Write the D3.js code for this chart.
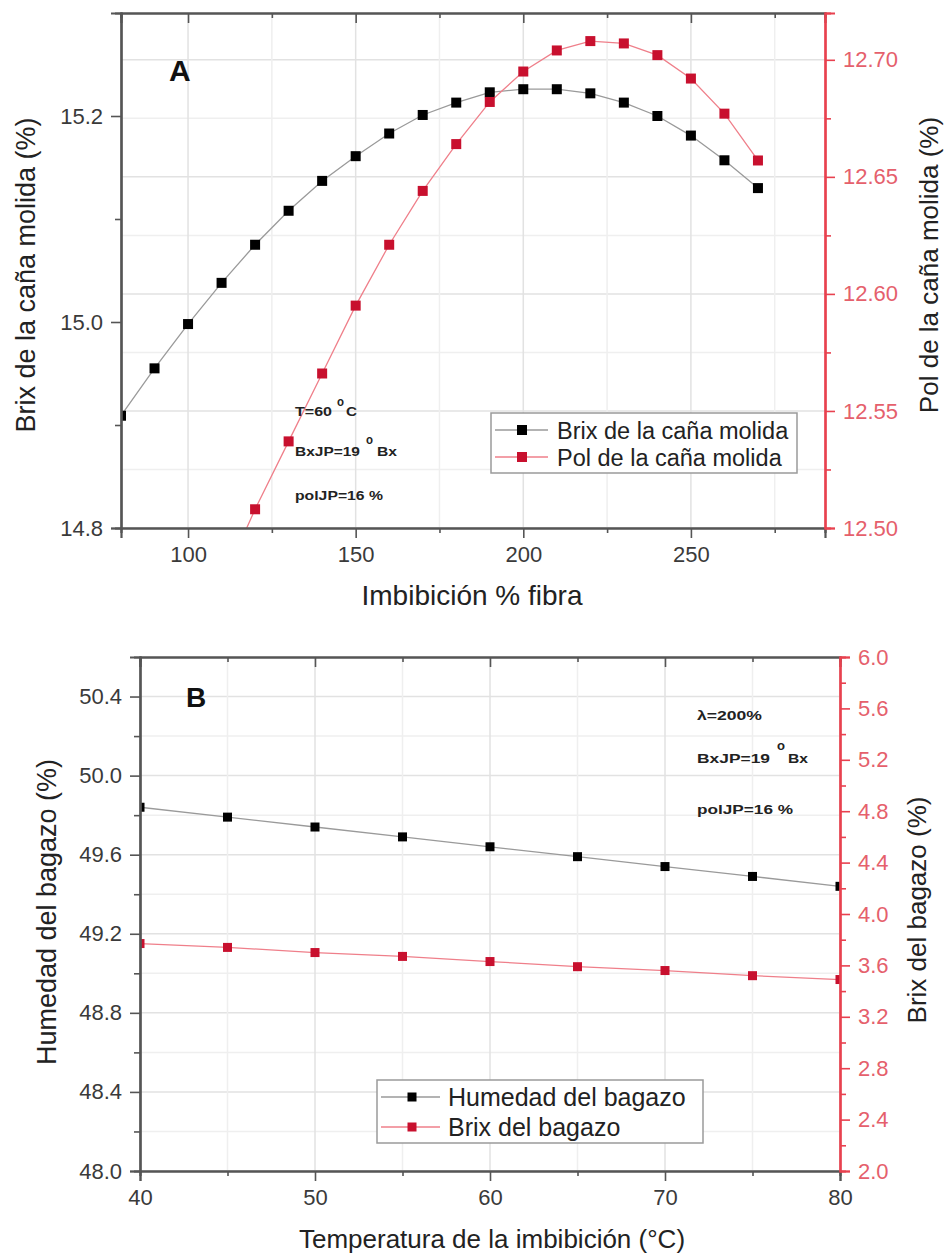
<!DOCTYPE html>
<html>
<head>
<meta charset="utf-8">
<script src="https://cdn.jsdelivr.net/npm/d3@7/dist/d3.min.js"></script>
<style>
  html, body { margin: 0; padding: 0; background: #fff; }
  svg { display: block; font-family: "Liberation Sans", Arial, sans-serif; }
</style>
</head>
<body>
<svg id="chart" width="947" height="1260"></svg>
<script>
// ---- Panel A: imbibition % fibre vs. milled cane Brix / Pol ----
const imbibA   = [70, 80, 90, 100, 110, 120, 130, 140, 150, 160, 170, 180, 190, 200, 210, 220, 230, 240, 250, 260, 270];
const brixCana = [14.855, 14.909, 14.955, 14.998, 15.038, 15.075, 15.108, 15.137, 15.161, 15.183, 15.201, 15.213, 15.223, 15.226, 15.226, 15.222, 15.213, 15.200, 15.181, 15.157, 15.130];
const imbibPol = [110, 120, 130, 140, 150, 160, 170, 180, 190, 200, 210, 220, 230, 240, 250, 260, 270];
const polCana  = [12.476, 12.508, 12.537, 12.566, 12.595, 12.621, 12.644, 12.664, 12.682, 12.695, 12.704, 12.708, 12.707, 12.702, 12.692, 12.677, 12.657];

const xTicksA      = [100, 150, 200, 250];
const xMinorA      = [125, 175, 225, 275];
const yLeftTicksA  = [14.8, 15.0, 15.2];
const yLeftMinorA  = [14.9, 15.1];
const yRightTicksA = [12.50, 12.55, 12.60, 12.65, 12.70];
const yRightMinorA = [12.525, 12.575, 12.625, 12.675];

// ---- Panel B: imbibition temperature vs. bagasse moisture / Brix ----
const tempB     = [40, 45, 50, 55, 60, 65, 70, 75, 80];
const humedadB  = [49.84, 49.79, 49.74, 49.69, 49.64, 49.59, 49.54, 49.49, 49.44];
const brixBag   = [3.77, 3.74, 3.70, 3.67, 3.63, 3.59, 3.56, 3.52, 3.49];

const xTicksB      = [40, 50, 60, 70, 80];
const xMinorB      = [45, 55, 65, 75];
const yLeftTicksB  = [48.0, 48.4, 48.8, 49.2, 49.6, 50.0, 50.4];
const yLeftMinorB  = [48.2, 48.6, 49.0, 49.4, 49.8, 50.2];
const yRightTicksB = [2.0, 2.4, 2.8, 3.2, 3.6, 4.0, 4.4, 4.8, 5.2, 5.6, 6.0];
const yRightMinorB = [2.2, 2.6, 3.0, 3.4, 3.8, 4.2, 4.6, 5.0, 5.4, 5.8];

const legendA = ["Brix de la caña molida", "Pol de la caña molida"];
const legendB = ["Humedad del bagazo", "Brix del bagazo"];

const BLACK = "#000";
const RED = "#c8102e";
const RED_AXIS = "#e8414f";
const RED_LINE = "#ef7f8a";
const GRAY_LINE = "#9a9a9a";
const AXIS = "#555";

const svg = d3.select("#chart");
svg.append("rect").attr("width", 947).attr("height", 1260).attr("fill", "#fff");

function panel(cfg) {
  const { x, yL, yR, id } = cfg;
  const [x0, x1] = x.range();
  const [y1, y0] = yL.range(); // y1 = bottom, y0 = top
  const g = svg.append("g");

  g.append("clipPath").attr("id", id).append("rect")
    .attr("x", x0).attr("y", y0).attr("width", x1 - x0).attr("height", y1 - y0);

  // grid
  const grid = g.append("g");
  cfg.hGrid.minor.forEach(v => grid.append("line")
    .attr("x1", x0).attr("x2", x1).attr("y1", cfg.hGrid.scale(v)).attr("y2", cfg.hGrid.scale(v))
    .attr("stroke", "#efefef").attr("stroke-width", 1.5));
  cfg.hGrid.major.forEach(v => grid.append("line")
    .attr("x1", x0).attr("x2", x1).attr("y1", cfg.hGrid.scale(v)).attr("y2", cfg.hGrid.scale(v))
    .attr("stroke", "#e2e2e2").attr("stroke-width", 1.5));
  cfg.xMinor.forEach(v => grid.append("line")
    .attr("x1", x(v)).attr("x2", x(v)).attr("y1", y0).attr("y2", y1)
    .attr("stroke", "#efefef").attr("stroke-width", 1.5));
  cfg.xTicks.forEach(v => grid.append("line")
    .attr("x1", x(v)).attr("x2", x(v)).attr("y1", y0).attr("y2", y1)
    .attr("stroke", "#e2e2e2").attr("stroke-width", 1.5));

  // series
  const plot = g.append("g").attr("clip-path", `url(#${id})`);
  cfg.series.forEach(s => {
    const pts = s.xs.map((d, i) => [d, s.ys[i]]);
    plot.append("path")
      .attr("d", d3.line().x(d => x(d[0])).y(d => s.y(d[1]))(pts))
      .attr("fill", "none").attr("stroke", s.line).attr("stroke-width", 1.3);
    plot.selectAll(null).data(pts).enter().append("rect")
      .attr("x", d => x(d[0]) - cfg.m / 2).attr("y", d => s.y(d[1]) - cfg.m / 2)
      .attr("width", cfg.m).attr("height", cfg.m).attr("fill", s.color);
  });

  // axes
  const styleAxis = (sel, color, labelColor) => {
    sel.selectAll(".domain").attr("stroke", color).attr("stroke-width", 2.2);
    sel.selectAll(".tick line").attr("stroke", color).attr("stroke-width", 1.6);
    sel.selectAll(".tick text").attr("fill", labelColor).attr("font-size", 22)
      .attr("font-family", "Liberation Sans, Arial, sans-serif");
  };
  const fmt = cfg.fmt;

  // bottom
  styleAxis(g.append("g").attr("transform", `translate(0,${y1})`)
    .call(d3.axisBottom(x).tickValues(cfg.xMinor).tickSize(5).tickFormat("")), AXIS, "#333");
  styleAxis(g.append("g").attr("transform", `translate(0,${y1})`)
    .call(d3.axisBottom(x).tickValues(cfg.xTicks).tickSize(10).tickPadding(8).tickFormat(d3.format("d"))), AXIS, "#3a3a3a");
  // top (inward ticks)
  styleAxis(g.append("g").attr("transform", `translate(0,${y0})`)
    .call(d3.axisBottom(x).tickValues(cfg.xTicks).tickSize(10).tickFormat("")), AXIS, "#333");
  styleAxis(g.append("g").attr("transform", `translate(0,${y0})`)
    .call(d3.axisBottom(x).tickValues(cfg.xMinor).tickSize(5).tickFormat("")), AXIS, "#333");
  // left
  styleAxis(g.append("g").attr("transform", `translate(${x0},0)`)
    .call(d3.axisLeft(yL).tickValues(cfg.yLMinor).tickSize(6).tickFormat("")), AXIS, "#333");
  styleAxis(g.append("g").attr("transform", `translate(${x0},0)`)
    .call(d3.axisLeft(yL).tickValues(cfg.yLTicks).tickSize(10).tickPadding(8).tickFormat(d3.format(fmt.l))), AXIS, "#3a3a3a");
  // right
  styleAxis(g.append("g").attr("transform", `translate(${x1},0)`)
    .call(d3.axisRight(yR).tickValues(cfg.yRMinor).tickSize(6).tickFormat("")), RED_AXIS, RED_AXIS);
  styleAxis(g.append("g").attr("transform", `translate(${x1},0)`)
    .call(d3.axisRight(yR).tickValues(cfg.yRTicks).tickSize(10).tickPadding(8).tickFormat(d3.format(fmt.r))), RED_AXIS, "#e5606c");

  return g;
}

function annotation(g, items) {
  items.forEach(t => {
    g.append("text").attr("x", t.x).attr("y", t.y)
      .attr("font-size", 12.5).attr("font-weight", "bold").attr("fill", "#222")
      .attr("textLength", t.w).attr("lengthAdjust", "spacingAndGlyphs")
      .text(t.text);
  });
}

function legend(g, box, labels, colors, lines, m) {
  g.append("rect").attr("x", box.x).attr("y", box.y).attr("width", box.w).attr("height", box.h)
    .attr("fill", "#fff").attr("stroke", "#9a9a9a").attr("stroke-width", 1.5);
  labels.forEach((lab, i) => {
    const cy = box.rows[i];
    g.append("line").attr("x1", box.x + 4).attr("x2", box.sx2).attr("y1", cy).attr("y2", cy)
      .attr("stroke", lines[i]).attr("stroke-width", 1.3);
    g.append("rect").attr("x", box.mx - m / 2).attr("y", cy - m / 2).attr("width", m).attr("height", m)
      .attr("fill", colors[i]);
    g.append("text").attr("x", box.tx).attr("y", cy + 8.5).attr("font-size", box.fs).attr("fill", "#222")
      .text(lab);
  });
}

// ---------- Panel A ----------
const xA  = d3.scaleLinear().domain([80, 290]).range([121, 825]);
const yAL = d3.scaleLinear().domain([14.8, 15.3]).range([528, 13]);
const yAR = d3.scaleLinear().domain([12.50, 12.72]).range([528, 13]);

const gA = panel({
  id: "clipA", x: xA, yL: yAL, yR: yAR, m: 10,
  xTicks: xTicksA, xMinor: xMinorA,
  yLTicks: yLeftTicksA, yLMinor: yLeftMinorA,
  yRTicks: yRightTicksA, yRMinor: yRightMinorA,
  hGrid: { scale: yAR, major: yRightTicksA, minor: yRightMinorA },
  fmt: { l: ".1f", r: ".2f" },
  series: [
    { xs: imbibA, ys: brixCana, y: yAL, color: BLACK, line: GRAY_LINE },
    { xs: imbibPol, ys: polCana, y: yAR, color: RED, line: RED_LINE }
  ]
});

gA.append("text").attr("x", 169).attr("y", 81).attr("font-size", 30).attr("font-weight", "bold")
  .attr("fill", "#111").text("A");

annotation(gA, [
  { x: 295, y: 416, w: 37, text: "T=60" },
  { x: 337, y: 406, w: 7, text: "o" },
  { x: 346, y: 416, w: 11, text: "C" },
  { x: 295, y: 456, w: 65, text: "BxJP=19" },
  { x: 366, y: 444, w: 7, text: "o" },
  { x: 377, y: 456, w: 20, text: "Bx" },
  { x: 295, y: 500, w: 88, text: "polJP=16 %" }
]);

legend(gA, { x: 491, y: 413, w: 306, h: 60, rows: [430, 457], sx2: 548, mx: 522, tx: 557, fs: 23.5 },
  legendA, [BLACK, RED], [GRAY_LINE, RED_LINE], 10);

// axis titles A
svg.append("text").attr("x", 472).attr("y", 605).attr("text-anchor", "middle")
  .attr("font-size", 28).attr("fill", "#222").text("Imbibición % fibra");
svg.append("text").attr("transform", "translate(35,275) rotate(-90)").attr("text-anchor", "middle")
  .attr("font-size", 27).attr("fill", "#222").text("Brix de la caña molida (%)");
svg.append("text").attr("transform", "translate(938,265) rotate(-90)").attr("text-anchor", "middle")
  .attr("font-size", 26).attr("fill", "#222").text("Pol de la caña molida (%)");

// ---------- Panel B ----------
const xB  = d3.scaleLinear().domain([40, 80]).range([140, 840]);
const yBL = d3.scaleLinear().domain([48.0, 50.6]).range([1171, 657]);
const yBR = d3.scaleLinear().domain([2.0, 6.0]).range([1171, 657]);

const gB = panel({
  id: "clipB", x: xB, yL: yBL, yR: yBR, m: 9,
  xTicks: xTicksB, xMinor: xMinorB,
  yLTicks: yLeftTicksB, yLMinor: yLeftMinorB,
  yRTicks: yRightTicksB, yRMinor: yRightMinorB,
  hGrid: { scale: yBL, major: yLeftTicksB, minor: yLeftMinorB },
  fmt: { l: ".1f", r: ".1f" },
  series: [
    { xs: tempB, ys: humedadB, y: yBL, color: BLACK, line: GRAY_LINE },
    { xs: tempB, ys: brixBag, y: yBR, color: RED, line: RED_LINE }
  ]
});

gB.append("text").attr("x", 186).attr("y", 707).attr("font-size", 28).attr("font-weight", "bold")
  .attr("fill", "#111").text("B");

annotation(gB, [
  { x: 697, y: 720, w: 65, text: "λ=200%" },
  { x: 697, y: 763, w: 73, text: "BxJP=19" },
  { x: 777, y: 750, w: 8, text: "o" },
  { x: 788, y: 763, w: 20, text: "Bx" },
  { x: 697, y: 814, w: 96, text: "polJP=16 %" }
]);

legend(gB, { x: 377, y: 1080, w: 326, h: 63, rows: [1097, 1127], sx2: 440, mx: 412, tx: 448, fs: 25 },
  legendB, [BLACK, RED], [GRAY_LINE, RED_LINE], 9);

// axis titles B
svg.append("text").attr("x", 492).attr("y", 1248).attr("text-anchor", "middle")
  .attr("font-size", 26).attr("fill", "#222").text("Temperatura de la imbibición (°C)");
svg.append("text").attr("transform", "translate(56,912) rotate(-90)").attr("text-anchor", "middle")
  .attr("font-size", 27).attr("fill", "#222").text("Humedad del bagazo (%)");
svg.append("text").attr("transform", "translate(926,910) rotate(-90)").attr("text-anchor", "middle")
  .attr("font-size", 26).attr("fill", "#222").text("Brix del bagazo (%)");
</script>
</body>
</html>
